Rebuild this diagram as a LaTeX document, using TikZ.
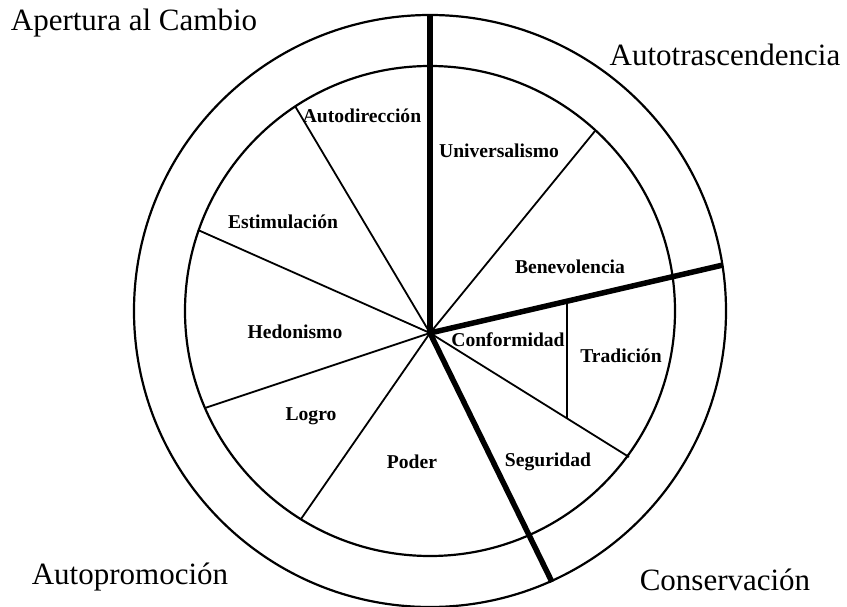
\documentclass[tikz,border=0pt]{standalone}
\usepackage{fontspec}
\setmainfont{Liberation Serif}
\begin{document}
\begin{tikzpicture}[x=1pt,y=-1pt,
  ring/.style={line width=2.2pt},
  thinline/.style={line width=1.8pt},
  thickline/.style={line width=5.5pt},
  seg/.style={font=\fontsize{19.6}{22}\selectfont\bfseries, inner sep=0pt},
  quad/.style={font=\fontsize{31}{35}\selectfont, inner sep=0pt}]
\useasboundingbox (0,0) rectangle (847,607);
\fill[white] (0,0) rectangle (847,607);
% centres
\coordinate (C) at (430,311);
\coordinate (H) at (430,333);
% thin spoke ends on inner circle
\coordinate (P1) at (295,106);
\coordinate (P2) at (198,230);
\coordinate (P3) at (205,408);
\coordinate (P4) at (301,519);
\coordinate (P5) at (629,457);
\coordinate (P6) at (595,131);
% thick spoke ends on outer circle
\coordinate (T1) at (430,15);
\coordinate (T2) at (723,265);
\coordinate (T3) at (552,582);
% separator Conformidad / Tradicion
\coordinate (Va) at (567,0);
\coordinate (Vb) at (567,607);
\coordinate (V1) at (intersection of H--T2 and Va--Vb);
\coordinate (V2) at (intersection of H--P5 and Va--Vb);
% rings
\draw[ring] (C) circle [radius=296pt];
\draw[ring] (C) circle [radius=245pt];
% thin spokes
\foreach \p in {P1,P2,P3,P4,P5,P6} \draw[thinline] (H) -- (\p);
\draw[thinline] (V1) -- (V2);
% thick spokes
\foreach \p in {T1,T2,T3} \draw[thickline] (H) -- (\p);
% segment labels
\node[seg] (autodir) at (362,116) {Autodirección};
\node[seg] (univ) at (499,151) {Universalismo};
\node[seg] (estim) at (283,222) {Estimulación};
\node[seg] (benev) at (570,267) {Benevolencia};
\node[seg] (hedon) at (295,332) {Hedonismo};
\node[seg] (conf) at (508,340) {Conformidad};
\node[seg] (trad) at (621,356) {Tradición};
\node[seg] (logro) at (311,416) {Logro};
\node[seg] (poder) at (412,462) {Poder};
\node[seg] (segur) at (548,462) {Seguridad};
% quadrant labels
\node[quad] (apert) at (134,23) {Apertura al Cambio};
\node[quad] (autot) at (725,55) {Autotrascendencia};
\node[quad] (autop) at (130,577) {Autopromoción};
\node[quad] (conse) at (725,580) {Conservación};
\end{tikzpicture}
\end{document}
